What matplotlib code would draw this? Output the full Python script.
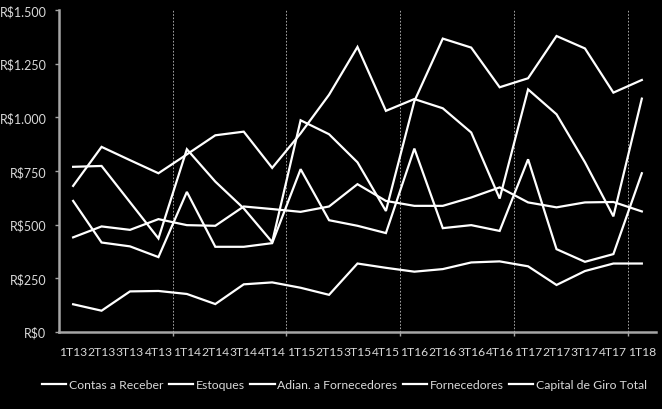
import numpy as np
import matplotlib
matplotlib.use('Agg')
import matplotlib.pyplot as plt

quarters = ['1T13', '2T13', '3T13', '4T13', '1T14', '2T14', '3T14', '4T14',
            '1T15', '2T15', '3T15', '4T15', '1T16', '2T16', '3T16', '4T16',
            '1T17', '2T17', '3T17', '4T17', '1T18']

contas_receber = [680, 862, 800, 739, 827, 916, 933, 764, 925, 1105, 1328, 1030,
                  1085, 1042, 929, 621, 1130, 1014, 790, 538, 1087]
estoques = [440, 491, 475, 525, 497, 494, 584, 572, 559, 584, 688, 610,
            587, 587, 626, 673, 603, 580, 603, 605, 561]
adian_fornecedores = [128, 98, 188, 190, 176, 129, 221, 230, 205, 172, 318, 298,
                      280, 292, 323, 328, 305, 218, 283, 318, 318]
fornecedores = [610, 416, 398, 348, 652, 396, 396, 413, 758, 520, 494, 460,
                854, 483, 497, 470, 804, 385, 326, 362, 739]
capital_giro = [769, 773, 604, 435, 851, 700, 575, 418, 986, 921, 790, 563,
                1075, 1367, 1325, 1140, 1182, 1379, 1321, 1115, 1174]

names = ['Contas a Receber', 'Estoques', 'Adian. a Fornecedores',
         'Fornecedores', 'Capital de Giro Total']
series = [contas_receber, estoques, adian_fornecedores, fornecedores, capital_giro]

txt = '#d9d9d9'
axc = '#a6a6a6'
plt.rcParams['font.family'] = ['Lato', 'DejaVu Sans']
fs = 9

fig = plt.figure(figsize=(6.62, 4.10), dpi=100, facecolor='black')
ax = fig.add_axes([0.089, 0.1885, 0.902, 0.7845], facecolor='black')

x = np.arange(len(quarters))
for name, vals in zip(names, series):
    ax.plot(x, vals, color='white', lw=1.6, label=name, solid_joinstyle='miter')

ax.set_xlim(-0.5, len(quarters) - 0.5)
ax.set_ylim(0, 1500)
ax.set_yticks(np.arange(0, 1501, 250))
ax.set_yticklabels(['R$0', 'R$250', 'R$500', 'R$750', 'R$1.000', 'R$1.250', 'R$1.500'])

# separators between years
ax.set_xticks(np.arange(3.5, len(quarters) - 0.5, 4))
ax.set_xticklabels([])
ax.set_xticks(x, minor=True)
ax.set_xticklabels(quarters, minor=True)
ax.xaxis.grid(True, which='major', color='#bfbfbf', lw=0.6, ls=(0, (2, 2)))

ax.tick_params(axis='x', which='major', length=3, width=1, color=axc, direction='out')
ax.tick_params(axis='x', which='minor', length=0, pad=10, labelsize=8.7, labelcolor=txt)
ax.tick_params(axis='y', length=3, width=1, color=axc, pad=6, labelsize=fs, labelcolor=txt)

for s in ['top', 'right']:
    ax.spines[s].set_visible(False)
for s in ['left', 'bottom']:
    ax.spines[s].set_color(axc)
    ax.spines[s].set_linewidth(1.8)

leg = ax.legend(loc='upper center', bbox_to_anchor=(0.478, -0.12), ncol=5, frameon=False,
                fontsize=8.8, handlelength=2.0, handletextpad=0.2, columnspacing=0.45,
                borderpad=0.2, labelcolor=txt)

fig.savefig('out.png', dpi=100, facecolor='black')
